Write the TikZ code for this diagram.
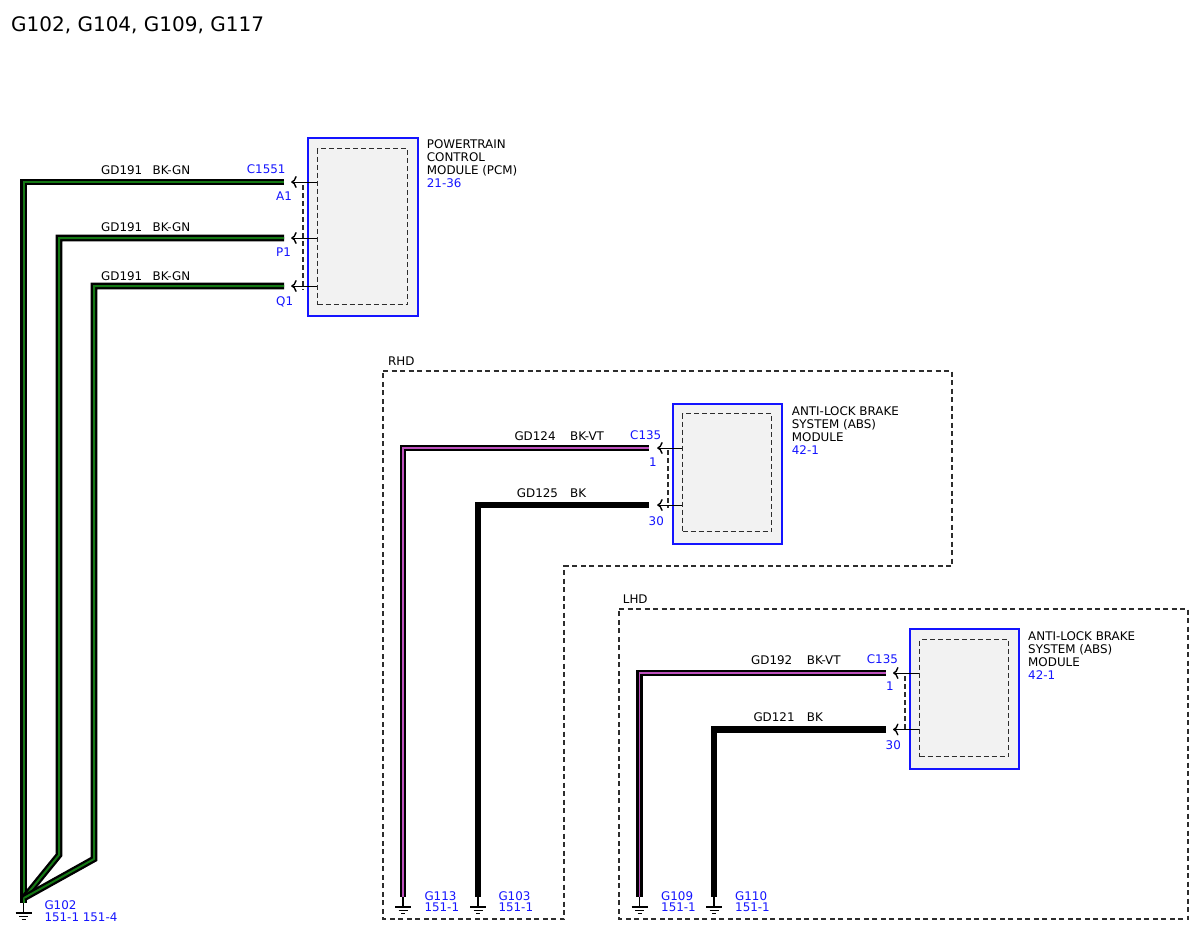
\documentclass[tikz,border=0pt]{standalone}
\usepackage{fontspec}
\setmainfont{DejaVu Sans}
\usetikzlibrary{arrows.meta}
\definecolor{wblue}{RGB}{20,20,255}
\definecolor{wgreen}{RGB}{20,120,20}
\definecolor{wviolet}{RGB}{190,80,190}
\definecolor{dgray}{RGB}{45,45,45}
\definecolor{modfill}{RGB}{242,242,242}
\begin{document}
\begin{tikzpicture}[x=1pt,y=-1pt,
  lbl/.style={anchor=base west, inner sep=0pt, font=\fontsize{11.9}{13}\selectfont, text=black},
  blbl/.style={lbl, text=wblue},
  wireGN/.style={draw=black, line width=2.3pt, double=wgreen, double distance=2pt, line join=miter},
  wireVT/.style={draw=black, line width=2.2pt, double=wviolet, double distance=1.7pt, line join=miter},
  wireBK/.style={draw=black, line width=6.2pt, line join=miter},
  module/.style={draw=wblue, fill=modfill, line width=1.6pt, anchor=north west, inner sep=0pt},
  innerbox/.style={draw=dgray, dash pattern=on 5pt off 3pt, line width=1.3pt, anchor=north west, inner sep=0pt},
  region/.style={draw=dgray, dash pattern=on 5pt off 3.5pt, line width=1.3pt},
  pinline/.style={draw=black, line width=1pt, -{Computer Modern Rightarrow[length=5.5pt,width=12pt,line width=1.4pt]}},
  splice/.style={draw=dgray, dash pattern=on 5pt off 3pt, line width=1.3pt},
  gnd/.style={draw=black, line width=1.1pt},
  gndsym/.pic={\draw[gnd] (0,0) -- (0,10) (-8,10) -- (8,10) (-4.5,13.4) -- (4.5,13.4) (-2,16.8) -- (2,16.8);}
]
\useasboundingbox[fill=white] (0,0) rectangle (1200,927);

% title
\node[anchor=base west, inner sep=0pt, font=\fontsize{20}{24}\selectfont] (title) at (11,31.5) {G102, G104, G109, G117};

% region boxes
\draw[region] (383,371) -- (952,371) -- (952,566) -- (564,566) -- (564,919) -- (383,919) -- cycle;
\node[lbl] (rhdlbl) at (388,365) {RHD};
\draw[region] (619,609) -- (1188,609) -- (1188,919) -- (619,919) -- cycle;
\node[lbl] (lhdlbl) at (622.7,603.3) {LHD};

% modules
\node[module, minimum width=110pt, minimum height=178pt] (pcm) at (307,137) {};
\node[innerbox, minimum width=90pt, minimum height=156pt] (pcmin) at (317,148) {};
\node[module, minimum width=109pt, minimum height=140pt] (absr) at (672,403) {};
\node[innerbox, minimum width=89pt, minimum height=118pt] (absrin) at (682,413) {};
\node[module, minimum width=109pt, minimum height=140pt] (absl) at (909,628) {};
\node[innerbox, minimum width=89pt, minimum height=117pt] (abslin) at (919,639) {};

% module labels
\node[lbl] (pcmt1) at (426.7,148) {POWERTRAIN};
\node[lbl] (pcmt2) at (426.7,161) {CONTROL};
\node[lbl] (pcmt3) at (426.7,174) {MODULE (PCM)};
\node[blbl] (pcmt4) at (426.7,187.5) {21-36};
\node[lbl] (absrt1) at (791.7,415) {ANTI-LOCK BRAKE};
\node[lbl] (absrt2) at (791.7,428) {SYSTEM (ABS)};
\node[lbl] (absrt3) at (791.7,441) {MODULE};
\node[blbl] (absrt4) at (791.7,454) {42-1};
\node[lbl] (abslt1) at (1028,640) {ANTI-LOCK BRAKE};
\node[lbl] (abslt2) at (1028,653) {SYSTEM (ABS)};
\node[lbl] (abslt3) at (1028,666) {MODULE};
\node[blbl] (abslt4) at (1028,679) {42-1};

% coordinates: wire ends, pin vertices, pin module points
\coordinate (pA1) at (284,182);   \coordinate (vA1) at (291.2,182); \coordinate (mA1) at (pcmin.west |- pA1);
\coordinate (pP1) at (284,238);   \coordinate (vP1) at (291.2,238); \coordinate (mP1) at (pcmin.west |- pP1);
\coordinate (pQ1) at (284,286);   \coordinate (vQ1) at (291.2,286); \coordinate (mQ1) at (pcmin.west |- pQ1);
\coordinate (pR1) at (649,448);   \coordinate (vR1) at (657.2,448); \coordinate (mR1) at (absrin.west |- pR1);
\coordinate (pR30) at (649,505);  \coordinate (vR30) at (657.2,505); \coordinate (mR30) at (absrin.west |- pR30);
\coordinate (pL1) at (886,673);   \coordinate (vL1) at (893,673); \coordinate (mL1) at (abslin.west |- pL1);
\coordinate (pL30) at (886,729.5); \coordinate (vL30) at (893,729.5); \coordinate (mL30) at (abslin.west |- pL30);

\coordinate (g102) at (23.5,903);
\coordinate (g102top) at (24,898);
\coordinate (p1bend) at (59,855);
\coordinate (q1bend) at (94,859);
\coordinate (g113) at (403,897);
\coordinate (g103) at (478,897);
\coordinate (g109) at (639.5,897);
\coordinate (g110) at (714,897);

% wires
\draw[wireGN] (pA1) -| (g102);
\draw[wireGN] (pP1) -| (p1bend) -- (g102top);
\draw[wireGN] (pQ1) -| (q1bend) -- (g102top);
\draw[wireVT] (pR1) -| (g113);
\draw[wireBK] (pR30) -| (g103);
\draw[wireVT] (pL1) -| (g109);
\draw[wireBK] (pL30) -| (g110);

% pins
\foreach \p in {A1,P1,Q1,R1,R30,L1,L30} {\draw[pinline] (m\p) -- (v\p);}
\coordinate (sPt) at (303,185); \coordinate (sPb) at (303,290);
\draw[splice] (sPt) -- (sPb);
\coordinate (sRt) at (668,450); \coordinate (sRb) at (668,508);
\draw[splice] (sRt) -- (sRb);
\coordinate (sLt) at (905,676); \coordinate (sLb) at (905,731);
\draw[splice] (sLt) -- (sLb);

% grounds
\foreach \g in {g102,g113,g103,g109,g110} {\pic at (\g) {gndsym};}

% wire labels
\node[lbl] (w1a) at (101,174) {GD191};  \node[lbl] (w1b) at (152.5,174) {BK-GN};
\node[lbl] (w2a) at (101,231) {GD191};  \node[lbl] (w2b) at (152.5,231) {BK-GN};
\node[lbl] (w3a) at (101,280) {GD191};  \node[lbl] (w3b) at (152.5,280) {BK-GN};
\node[lbl] (w4a) at (514.3,440) {GD124}; \node[lbl] (w4b) at (570,440) {BK-VT};
\node[lbl] (w5a) at (516.7,497) {GD125}; \node[lbl] (w5b) at (570,497) {BK};
\node[lbl] (w6a) at (751,664) {GD192};  \node[lbl] (w6b) at (806.7,664) {BK-VT};
\node[lbl] (w7a) at (753.3,721) {GD121}; \node[lbl] (w7b) at (806.7,721) {BK};

% pin / connector labels
\node[blbl] (cPCM) at (246.7,173) {C1551};
\node[blbl] (lA1) at (276,200) {A1};
\node[blbl] (lP1) at (276,256) {P1};
\node[blbl] (lQ1) at (276,305) {Q1};
\node[blbl] (cR) at (630,439) {C135};
\node[blbl] (lR1) at (649,466) {1};
\node[blbl] (lR30) at (648.5,525) {30};
\node[blbl] (cL) at (866.7,663.3) {C135};
\node[blbl] (lL1) at (886,690.7) {1};
\node[blbl] (lL30) at (885.5,749.3) {30};

% ground labels
\node[blbl] (t102a) at (44.3,909) {G102};
\node[blbl] (t102b) at (44.3,921.7) {151-1 151-4};
\node[blbl] (t113a) at (424.3,900) {G113};
\node[blbl] (t113b) at (424.3,911.7) {151-1};
\node[blbl] (t103a) at (498.3,900) {G103};
\node[blbl] (t103b) at (498.3,911.7) {151-1};
\node[blbl] (t109a) at (661,900) {G109};
\node[blbl] (t109b) at (661,911.7) {151-1};
\node[blbl] (t110a) at (735,900) {G110};
\node[blbl] (t110b) at (735,911.7) {151-1};
\end{tikzpicture}
\end{document}
